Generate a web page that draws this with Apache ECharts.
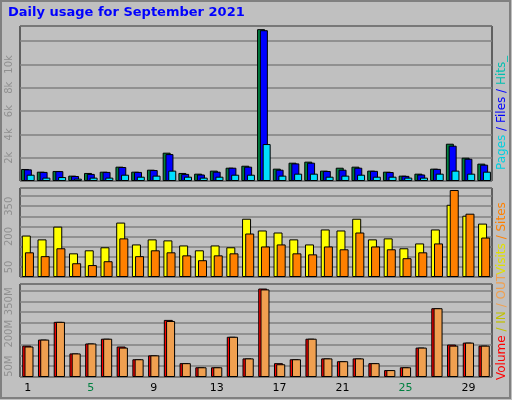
<!DOCTYPE html><html><head><meta charset="utf-8">
<script src="https://cdn.jsdelivr.net/npm/echarts@6/dist/echarts.min.js"></script>
<style>html,body{margin:0;padding:0;background:#c0c0c0}#c{width:512px;height:400px}</style></head><body><div id="c"></div>
<script>
const days=['1','2','3','4','5','6','7','8','9','10','11','12','13','14','15','16','17','18','19','20','21','22','23','24','25','26','27','28','29','30'];
const weekend=['4','5','11','12','18','19','25','26'];
const hits=[1030,800,860,460,690,800,1230,800,970,2430,690,630,890,1140,1310,13030,1060,1570,1660,890,1140,1230,890,800,460,630,1060,3200,2000,1490];
const files=[1000,780,850,430,610,780,1200,780,940,2310,610,560,800,1140,1230,12940,970,1510,1570,860,970,1140,870,770,440,560,1040,3030,1910,1400];
const pages=[540,290,340,200,290,290,540,370,460,890,370,290,370,540,540,3170,460,630,630,370,460,540,370,370,290,290,630,890,630,800];
const visits=[205,186,249,117,132,147,269,161,186,181,156,132,156,147,288,230,220,186,161,235,230,288,186,191,142,166,235,357,303,264];
const sites=[122,103,142,68,59,78,191,103,132,122,107,83,107,117,215,151,161,117,112,151,137,220,151,137,93,122,166,430,313,195];
const volume=[145,173,255,109,155,177,141,82,100,264,64,45,45,186,86,409,64,82,177,86,73,86,64,32,45,136,318,150,159,145];
const volOut=[141,173,255,109,155,177,136,82,100,259,64,45,45,186,86,405,59,82,177,86,73,86,64,32,45,136,318,145,159,145];
const topTicks=['','2k','4k','6k','8k','10k',''];
const midTicks={50:'50',200:'200',350:'350'};
const botTicks={50:'50M',200:'200M',350:'350M'};
(function(){
const ch=echarts.init(document.getElementById('c'));
const grids=[{left:20,right:20,top:26,height:155},{left:20,right:20,top:188,height:89},{left:20,right:20,top:284,height:93}];
grids.forEach(g=>{g.show=true;g.backgroundColor='#c0c0c0';g.borderColor='#000';g.borderWidth=1;});
const xa=i=>({type:'category',gridIndex:i,data:days,axisTick:{show:false},axisLine:{show:false},
 axisLabel:{show:i===2,fontFamily:'DejaVu Sans',fontSize:11,margin:6,formatter:v=>weekend.includes(v)?'{w|'+v+'}':'{n|'+v+'}',rich:{w:{color:'#008040',fontSize:11,fontFamily:'DejaVu Sans'},n:{color:'#000',fontSize:11,fontFamily:'DejaVu Sans'}}}});
const ya=(i,max,int,fmt)=>({type:'value',gridIndex:i,min:0,max:max,interval:int,axisLine:{show:false},axisTick:{show:false},
 splitLine:{lineStyle:{color:'#808080',width:1.5}},axisLabel:{rotate:90,color:'#909090',fontSize:10,fontFamily:'DejaVu Sans',margin:6,formatter:fmt}});
const bs=(name,xi,data,color,w)=>({name,type:'bar',xAxisIndex:xi,yAxisIndex:xi,data,barWidth:w,itemStyle:{color,borderColor:'#000',borderWidth:1},animation:false});
const s1=[bs('Hits',0,hits,'#008040',8),bs('Files',0,files,'#0000ff',8),bs('Pages',0,pages,'#00e0ff',8)];
s1.forEach(s=>s.barGap='-65%');
const s2=[bs('Visits',1,visits,'#ffff00',9),bs('Sites',1,sites,'#ff8000',9)];s2.forEach(s=>s.barGap='-65%');
const s3=[bs('Volume',2,volume,'#ff0000',9),bs('Out',2,volOut,'#f0a050',9)];s3.forEach(s=>s.barGap='-75%');
ch.setOption({backgroundColor:'#c0c0c0',animation:false,grid:grids,
 xAxis:[xa(0),xa(1),xa(2)],
 yAxis:[ya(0,13300,2000,v=>topTicks[v/2000]||''),ya(1,440,50,v=>midTicks[v]||''),ya(2,430,50,v=>botTicks[v]||'')],
 series:[...s1,...s2,...s3],
 graphic:[
  {type:'rect',shape:{x:1,y:1,width:509,height:397},style:{fill:'none',stroke:'#808080',lineWidth:2},silent:true},
  {type:'text',left:8,top:6,style:{text:'Daily usage for September 2021',fill:'#0000ff',font:'bold 13px "DejaVu Sans"'}},
  {type:'text',x:502,y:170,rotation:Math.PI/2,style:{text:'{a|Pages}{f| / Files / }{h|Hits_}',rich:{a:{fill:'#00d0e0',font:'12px "DejaVu Sans"'},f:{fill:'#0000ff',font:'12px "DejaVu Sans"'},h:{fill:'#00c0b0',font:'12px "DejaVu Sans"'}},verticalAlign:'middle'}},
  {type:'text',x:502,y:275,rotation:Math.PI/2,style:{text:'{v|Visits}{s| / Sites}',rich:{v:{fill:'#e0e000',font:'12px "DejaVu Sans"'},s:{fill:'#ff8000',font:'12px "DejaVu Sans"'}},verticalAlign:'middle'}},
  {type:'text',x:502,y:380,rotation:Math.PI/2,style:{text:'{v|Volume}{i| / IN}{o| / OUT}',rich:{v:{fill:'#ff0000',font:'12px "DejaVu Sans"'},i:{fill:'#c0c000',font:'12px "DejaVu Sans"'},o:{fill:'#f0a050',font:'12px "DejaVu Sans"'}},verticalAlign:'middle'}}
 ]});
})();
</script></body></html>
